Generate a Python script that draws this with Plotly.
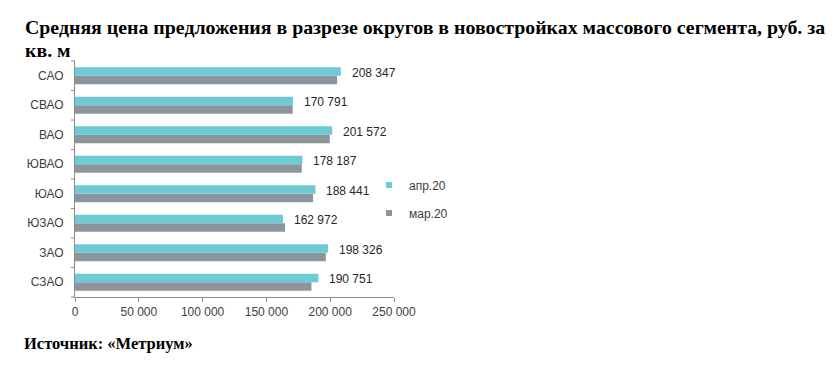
import plotly.graph_objects as go

categories = ["САО", "СВАО", "ВАО", "ЮВАО", "ЮАО", "ЮЗАО", "ЗАО", "СЗАО"]
apr_values = [208347, 170791, 201572, 178187, 188441, 162972, 198326, 190751]
mar_values = [205400, 170600, 199700, 177700, 186600, 164600, 196600, 185300]
series_names = ["апр.20", "мар.20"]
series_colors = ["#6ecbd6", "#8c959b"]
tick_values = [0, 50000, 100000, 150000, 200000, 250000]
tick_labels = ["0", "50 000", "100 000", "150 000", "200 000", "250 000"]
title_line1 = "Средняя цена предложения в разрезе округов в новостройках массового сегмента, руб. за"
title_line2 = "кв. м"
source_text = "Источник: «Метриум»"

W, H = 828, 366
ML, MT, PW, PH = 67, 53, 319, 236
MR, MB = W - ML - PW, H - MT - PH

def fmt(v):
    return f"{v:,}".replace(",", " ")

def px(xf):
    return (xf - ML) / PW

def py(yf):
    return 1 - (yf - MT) / PH

fig = go.Figure()
fig.add_trace(go.Bar(
    y=categories, x=mar_values, name=series_names[1], orientation="h",
    marker=dict(color=series_colors[1], line=dict(width=0)), showlegend=False,
))
fig.add_trace(go.Bar(
    y=categories, x=apr_values, name=series_names[0], orientation="h",
    marker=dict(color=series_colors[0], line=dict(width=0)), showlegend=False,
))
for name, col in zip(series_names, series_colors):
    fig.add_trace(go.Scatter(
        x=[None], y=[None], mode="markers", name=name, legendgroup=name,
        marker=dict(symbol="square", size=6, color=col),
    ))

annotations = []
for cat, v in zip(categories, apr_values):
    annotations.append(dict(
        x=v, y=cat, xref="x", yref="y", text=fmt(v), showarrow=False,
        xanchor="left", yanchor="middle", xshift=9, yshift=3,
        font=dict(family="Liberation Sans, Arial", size=12, color="#262626"),
    ))
annotations += [
    dict(text="<b>" + title_line1 + "</b>", xref="paper", yref="paper", x=px(14.5), y=py(19),
         xanchor="left", yanchor="middle", showarrow=False, align="left",
         font=dict(family="Liberation Serif, Times New Roman", size=19.85, color="black")),
    dict(text="<b>" + title_line2 + "</b>", xref="paper", yref="paper", x=px(14.5), y=py(42),
         xanchor="left", yanchor="middle", showarrow=False, align="left",
         font=dict(family="Liberation Serif, Times New Roman", size=19.85, color="black")),
    dict(text="<b>" + source_text + "</b>", xref="paper", yref="paper", x=px(13.5), y=py(335.5),
         xanchor="left", yanchor="middle", showarrow=False, align="left",
         font=dict(family="Liberation Serif, Times New Roman", size=16.5, color="black")),
]

shapes = []
n = len(categories)
for i in range(n + 1):
    shapes.append(dict(type="line", xref="paper", yref="paper", x0=-4 / PW, x1=0, y0=i / n, y1=i / n,
                       line=dict(color="#8c8c8c", width=1)))

fig.update_layout(
    width=W, height=H,
    margin=dict(l=ML, r=MR, t=MT, b=MB, autoexpand=False),
    paper_bgcolor="white", plot_bgcolor="white",
    barmode="group", bargap=0.42, bargroupgap=0,
    showlegend=True,
    legend=dict(x=px(361), y=py(191), xanchor="left", yanchor="middle",
                traceorder="grouped", tracegroupgap=9, bgcolor="rgba(0,0,0,0)",
                font=dict(family="Liberation Sans, Arial", size=12, color="#404040")),
    font=dict(family="Liberation Sans, Arial", size=12, color="#404040"),
    xaxis=dict(range=[0, 250000], tickvals=tick_values, ticktext=tick_labels,
               showgrid=False, zeroline=False, showline=True, linecolor="#8c8c8c",
               ticks="outside", ticklen=4, tickcolor="#8c8c8c",
               tickfont=dict(size=12, color="#404040")),
    yaxis=dict(categoryorder="array", categoryarray=categories[::-1],
               showgrid=False, showline=True, linecolor="#8c8c8c", zeroline=False,
               ticks="", ticklabelstandoff=8, tickfont=dict(size=12, color="#404040")),
    annotations=annotations,
    shapes=shapes,
)

fig.write_html("out.html")
